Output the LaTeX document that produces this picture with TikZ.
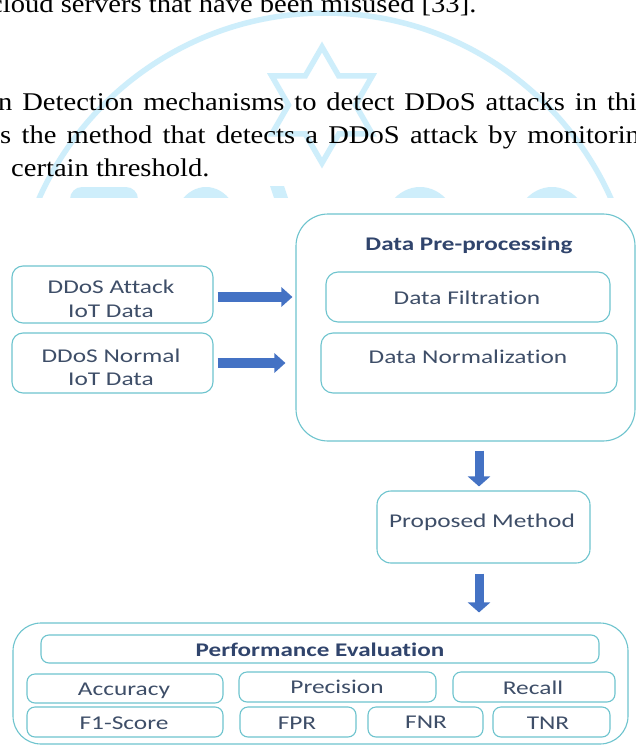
\documentclass[tikz,border=0pt]{standalone}
\usepackage{fontspec}
\setmainfont[FakeStretch=1.12]{Liberation Serif}
\newfontfamily\boxfont[FakeStretch=1.3,Ligatures=NoCommon]{Carlito}
\usetikzlibrary{arrows.meta,fit}
\definecolor{bordc}{RGB}{110,196,206}
\definecolor{txtc}{RGB}{62,78,104}
\definecolor{titc}{RGB}{48,68,108}
\definecolor{arrc}{RGB}{68,114,196}
\definecolor{wmc}{RGB}{206,238,251}
\begin{document}
\begin{tikzpicture}[x=1pt,y=-1pt,
  box/.style={draw=bordc, line width=1.1pt, fill=white, inner sep=0pt, rounded corners=#1},
  box/.default=10pt,
  lbl/.style={font=\boxfont\fontsize{19.5}{24}\selectfont, text=txtc, anchor=base, inner sep=0pt},
  ttl/.style={font=\boxfont\bfseries\fontsize{19.3}{24}\selectfont, text=titc, anchor=base, inner sep=0pt},
  toptxt/.style={font=\fontsize{25.5}{32}\selectfont, text=black, anchor=base west, inner sep=0pt},
  harrow/.style={arrc, line width=10pt, -{Triangle[length=11pt,width=19pt]}},
  varrow/.style={arrc, line width=9pt, -{Triangle[length=10pt,width=22pt]}},
  wm/.style={wmc, line width=5.5pt}
]
\useasboundingbox (0,0) rectangle (636,746);
\fill[white] (0,0) rectangle (636,746);
% watermark
\begin{scope}
\clip (0,0) rectangle (636,197);
\draw[wm] (325,326) circle[radius=313pt];
\draw[wm, line join=miter] (322,47) -- (338.75,76) -- (372.2,76) -- (355.5,105) -- (372.2,134) -- (338.75,134) -- (322,163) -- (305.25,134) -- (271.8,134) -- (288.5,105) -- (271.8,76) -- (305.25,76) -- cycle;
\fill[wmc, rounded corners=12pt] (70,187) rectangle (138,260);
\fill[wmc] (206,236) ellipse[x radius=36pt, y radius=49pt];
\fill[wmc] (270,186) -- (284,186) -- (302,240) -- (288,240) -- cycle;
\fill[wmc] (420,236) ellipse[x radius=40pt, y radius=49pt];
\fill[wmc] (552,236) ellipse[x radius=40pt, y radius=49pt];
\end{scope}
% text of the page
\node[toptxt] (l1) at (-10,13) {cloud servers that have been misused [33].};
\node[toptxt] (l2) at (-2,111) {\makebox[650pt][s]{n Detection mechanisms to detect DDoS attacks in this}};
\node[toptxt] (l3) at (0,144) {\makebox[654pt][s]{s the method that detects a DDoS attack by monitoring}};
\node[toptxt] (l4) at (11,176) {certain threshold.};
% input boxes
\node[box=11pt, fit={(12,266) (213,323)}] (att) {};
\node[lbl] (attt1) at (111,293) {DDoS Attack};
\node[lbl] (attt2) at (111,317) {IoT Data};
\node[box=11pt, fit={(12,333) (213,393)}] (nor) {};
\node[lbl] (nort1) at (111,362) {DDoS Normal};
\node[lbl] (nort2) at (111,385) {IoT Data};
% preprocessing
\node[box=32pt, fit={(296,214) (635,441)}] (pre) {};
\node[ttl] (pret) at (469,250) {Data Pre-processing};
\node[box=12pt, fit={(326,272) (610,322)}] (filt) {};
\node[lbl] (filtt) at (467,304) {Data Filtration};
\node[box=12pt, fit={(321,333) (617,393)}] (norm) {};
\node[lbl] (normt) at (468,363) {Data Normalization};
% proposed
\node[box=14pt, fit={(377,491) (590,563)}] (prop) {};
\node[lbl] (propt) at (482,527) {Proposed Method};
% evaluation
\node[box=28pt, fit={(13,623) (628,744)}] (perf) {};
\node[box=8pt, fit={(41,635) (599,663)}] (perft) {};
\node[ttl] (perftt) at (320,656) {Performance Evaluation};
\node[box=8pt, fit={(27,674) (223,703)}] (acc) {};
\node[lbl] (acct) at (124,695) {Accuracy};
\node[box=8pt, fit={(239,672) (436,702)}] (prec) {};
\node[lbl] (prect) at (337,693) {Precision};
\node[box=8pt, fit={(453,672) (615,702)}] (rec) {};
\node[lbl] (rect) at (533,694) {Recall};
\node[box=8pt, fit={(27,707) (223,737)}] (f1) {};
\node[lbl] (f1t) at (124,729) {F1-Score};
\node[box=8pt, fit={(240,707) (356,737)}] (fpr) {};
\node[lbl] (fprt) at (297,729) {FPR};
\node[box=8pt, fit={(368,707) (483,737)}] (fnr) {};
\node[lbl] (fnrt) at (426,728) {FNR};
\node[box=8pt, fit={(493,707) (610,737)}] (tnr) {};
\node[lbl] (tnrt) at (548,729) {TNR};
% arrows
\path (att.east) ++(4,2.5) coordinate (a1s);
\path (pre.west |- a1s) ++(-3,0) coordinate (a1e);
\draw[harrow] (a1s) -- (a1e);
\path (nor.east) ++(4,0) coordinate (a2s);
\path (pre.west |- a2s) ++(-10,0) coordinate (a2e);
\draw[harrow] (a2s) -- (a2e);
\path (prop.north -| 479,0) coordinate (pcol);
\path (pre.south -| pcol) ++(0,9) coordinate (d1s);
\path (prop.north -| pcol) ++(0,-4) coordinate (d1e);
\draw[varrow] (d1s) -- (d1e);
\path (prop.south -| pcol) ++(0,10) coordinate (d2s);
\path (perf.north -| pcol) ++(0,-10) coordinate (d2e);
\draw[varrow] (d2s) -- (d2e);
\end{tikzpicture}
\end{document}
